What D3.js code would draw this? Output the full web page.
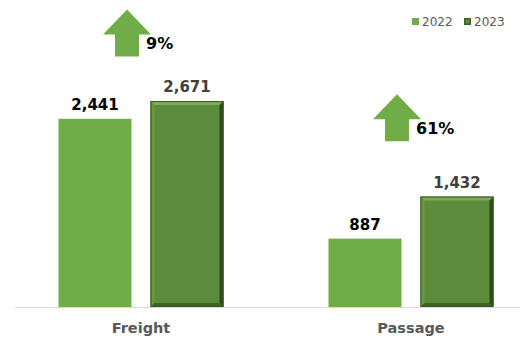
<!DOCTYPE html>
<html><head><meta charset="utf-8">
<script src="https://cdn.jsdelivr.net/npm/d3@7"></script>
<style>body{margin:0;background:#fff}svg{display:block}</style>
</head><body>
<script>
const categories = ["Freight", "Passage"];
const series = ["2022", "2023"];
const values2022 = [2441, 887];
const values2023 = [2671, 1432];
const growthLabels = ["9%", "61%"];
const arrowBaseValues = [3250, 2150];

const W = 526, H = 338;
const svg = d3.select("body").append("svg").attr("width", W).attr("height", H);
const font = "'DejaVu Sans', Verdana, sans-serif";

const baseY = 307;
const y = d3.scaleLinear().domain([0, 3500]).range([baseY, baseY - 3500 * 0.0771]);
const x = d3.scalePoint().domain(categories).range([141, 411]);
const sub = d3.scaleBand().domain(series).range([-82.5, 82.5]).paddingInner(0.2065).paddingOuter(0);
const bw = sub.bandwidth();

// axis line
svg.append("line").attr("x1", 15).attr("x2", 520).attr("y1", baseY + 0.5).attr("y2", baseY + 0.5)
  .attr("stroke", "#d9d9d9").attr("stroke-width", 1);

const light = "#70ad47";

// 2022 bars
categories.forEach((c, i) => {
  const x0 = x(c) + sub("2022");
  svg.append("rect").attr("x", x0).attr("y", y(values2022[i])).attr("width", bw)
    .attr("height", baseY - y(values2022[i])).attr("fill", light);
  svg.append("text").attr("x", x0 + bw / 2).attr("y", y(values2022[i]) - 9)
    .attr("text-anchor", "middle").attr("font-family", font).attr("font-weight", "bold")
    .attr("font-size", 15).attr("fill", "#000").text(d3.format(",")(values2022[i]));
});

// 2023 bevel bars
categories.forEach((c, i) => {
  const x0 = x(c) + sub("2023"), x1 = x0 + bw;
  const y0 = y(values2023[i]), y1 = baseY;
  const b = 4;
  const g = svg.append("g");
  g.append("rect").attr("x", x0).attr("y", y0).attr("width", bw).attr("height", y1 - y0).attr("fill", "#5b8b3b");
  const poly = (pts, fill) => g.append("polygon").attr("points", pts.map(p => p.join(",")).join(" ")).attr("fill", fill);
  poly([[x0, y0], [x1, y0], [x1 - b, y0 + b], [x0 + b, y0 + b]], "#7eac5c");
  poly([[x0, y0], [x0 + b, y0 + b], [x0 + b, y1 - b], [x0, y1]], "#68993f");
  poly([[x1, y0], [x1, y1], [x1 - b, y1 - b], [x1 - b, y0 + b]], "#2e4a1c");
  poly([[x0, y1], [x1, y1], [x1 - b, y1 - b], [x0 + b, y1 - b]], "#3e6126");
  g.append("rect").attr("x", x0 + 0.5).attr("y", y0 + 0.5).attr("width", bw - 1).attr("height", y1 - y0 - 1)
    .attr("fill", "none").attr("stroke", "#38561f").attr("stroke-width", 1);
  svg.append("text").attr("x", x0 + bw / 2).attr("y", y0 - 9)
    .attr("text-anchor", "middle").attr("font-family", font).attr("font-weight", "bold")
    .attr("font-size", 15).attr("fill", "#404040").text(d3.format(",")(values2023[i]));
});

// growth arrows
categories.forEach((c, i) => {
  const cx = x(c) - 14;
  const yb = y(arrowBaseValues[i]);
  const sw = 12, hw = 24, sh = 22, hh = 25;
  const pts = [[cx - sw, yb], [cx - sw, yb - sh], [cx - hw, yb - sh], [cx, yb - sh - hh],
    [cx + hw, yb - sh], [cx + sw, yb - sh], [cx + sw, yb]];
  svg.append("polygon").attr("points", pts.map(p => p.join(",")).join(" ")).attr("fill", light);
  svg.append("text").attr("x", cx + sw + 7).attr("y", yb - 13).attr("dy", "0.36em")
    .attr("font-family", font).attr("font-weight", "bold").attr("font-size", 16)
    .attr("fill", "#000").text(growthLabels[i]);
});

// category labels
categories.forEach(c => {
  svg.append("text").attr("x", x(c)).attr("y", 328).attr("dy", "0.36em").attr("text-anchor", "middle")
    .attr("font-family", font).attr("font-weight", "bold").attr("font-size", 14.5)
    .attr("fill", "#595959").text(c);
});

// legend
const legendX = [412, 464];
series.forEach((s, i) => {
  const lx = legendX[i];
  if (i === 0) {
    svg.append("rect").attr("x", lx).attr("y", 18).attr("width", 7).attr("height", 7).attr("fill", light);
  } else {
    svg.append("rect").attr("x", lx).attr("y", 18).attr("width", 7).attr("height", 7).attr("fill", "#3e6126");
    svg.append("rect").attr("x", lx + 1.5).attr("y", 19.5).attr("width", 4).attr("height", 4).attr("fill", "#5b8b3b");
  }
  svg.append("text").attr("x", lx + 10).attr("y", 21.5).attr("dy", "0.36em")
    .attr("font-family", font).attr("font-size", 12).attr("fill", "#595959").text(s);
});
</script>
</body></html>
